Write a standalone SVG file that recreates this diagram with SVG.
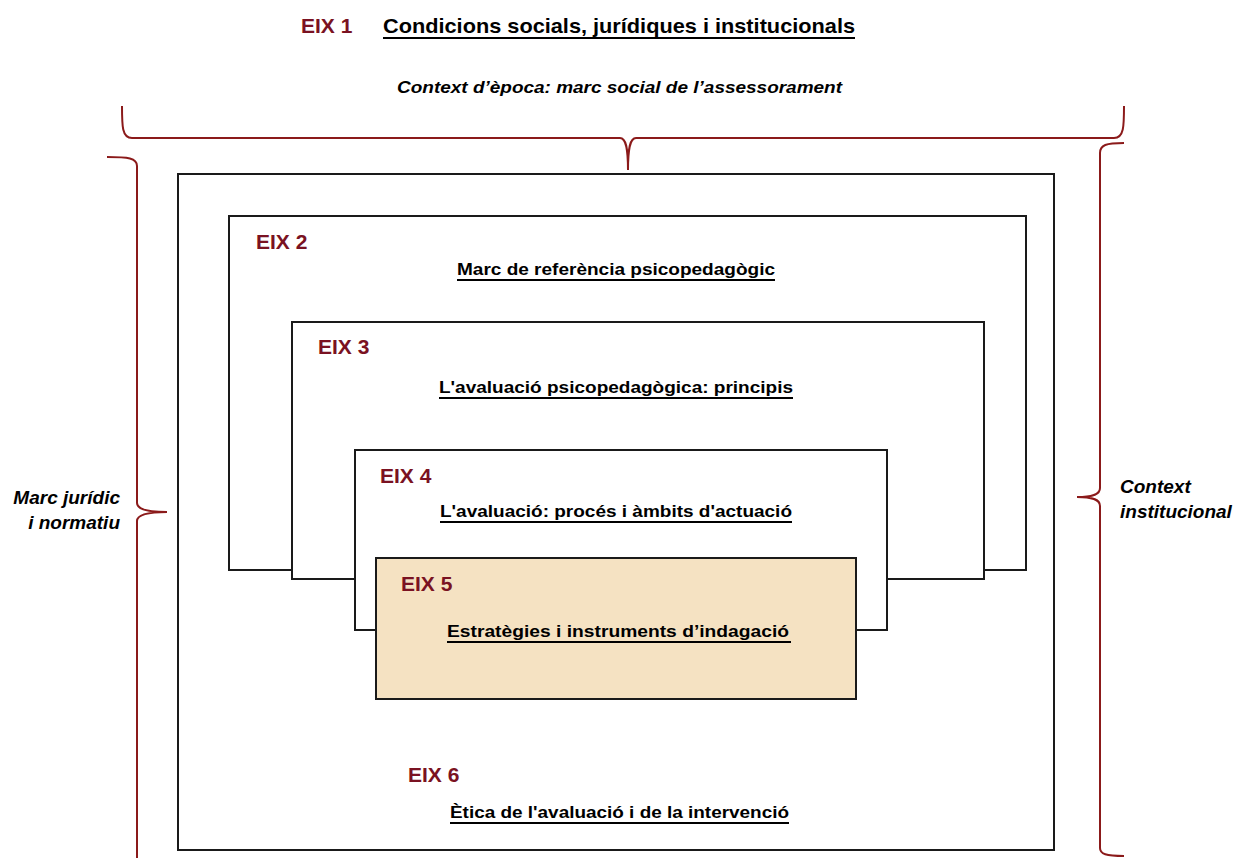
<svg xmlns="http://www.w3.org/2000/svg" width="1234" height="858" viewBox="0 0 1234 858">
<style>
.box{fill:#fff;stroke:#1a1a1a;stroke-width:2}
.b5{fill:#f5e2c2;stroke:#1a1a1a;stroke-width:2}
.eix{font-family:"Liberation Sans",Arial,sans-serif;font-weight:bold;fill:#7a1222;font-size:21px}
.tit{font-family:"Liberation Sans",Arial,sans-serif;font-weight:bold;fill:#000;font-size:17px}
.ul{stroke:#000;stroke-width:2}
.it{font-family:"Liberation Sans",Arial,sans-serif;font-weight:bold;font-style:italic;fill:#000;font-size:17px}
.side{font-size:19px}
.brace{fill:none;stroke:#8b1a1a;stroke-width:2}
</style>
<rect width="1234" height="858" fill="#fff"/>
<g id="header">
<text class="eix" x="301" y="33">EIX 1</text>
<text class="tit" x="383" y="33" style="font-size:21px" textLength="472" lengthAdjust="spacingAndGlyphs">Condicions socials, jurídiques i institucionals</text>
<line class="ul" x1="383" y1="38" x2="855" y2="38"/>
<text class="it" x="397" y="93" textLength="445" lengthAdjust="spacingAndGlyphs">Context d’època: marc social de l’assessorament</text>
</g>
<g id="connectors">
<path class="brace" d="M122,106 C122,126 122,138 132,138 L620,138 C626,138 628,148 628,170 C628,148 630,138 636,138 L1114,138 C1124,138 1124,126 1124,106"/>
<path class="brace" d="M1124,143 C1106,143 1100,145 1100,153 L1100,488 C1100,494 1094,497 1077,497 C1094,497 1100,500 1100,506 L1100,848 C1100,854 1106,856 1124,856"/>
<path class="brace" d="M107,157 C128,157 137,158 137,166 L137,503 C137,509 146,512 167,512 C146,512 137,515 137,521 L137,858"/>
</g>
<g id="eix6">
<rect class="box" x="178" y="174" width="876" height="676"/>
<text class="eix" x="408" y="782">EIX 6</text>
<text class="tit" x="450" y="818" textLength="339" lengthAdjust="spacingAndGlyphs">Ètica de l'avaluació i de la intervenció</text>
<line class="ul" x1="450" y1="823" x2="789" y2="823"/>
</g>
<g id="eix2">
<rect class="box" x="229" y="216" width="797" height="354"/>
<text class="eix" x="256" y="249">EIX 2</text>
<text class="tit" x="457" y="275" textLength="318" lengthAdjust="spacingAndGlyphs">Marc de referència psicopedagògic</text>
<line class="ul" x1="457" y1="280" x2="775" y2="280"/>
</g>
<g id="eix3">
<rect class="box" x="292" y="322" width="692" height="257"/>
<text class="eix" x="318" y="354">EIX 3</text>
<text class="tit" x="439" y="393" textLength="354" lengthAdjust="spacingAndGlyphs">L'avaluació psicopedagògica: principis</text>
<line class="ul" x1="439" y1="398" x2="793" y2="398"/>
</g>
<g id="eix4">
<rect class="box" x="355" y="450" width="532" height="180"/>
<text class="eix" x="380" y="483">EIX 4</text>
<text class="tit" x="440" y="517" textLength="352" lengthAdjust="spacingAndGlyphs">L'avaluació: procés i àmbits d'actuació</text>
<line class="ul" x1="440" y1="522" x2="792" y2="522"/>
</g>
<g id="eix5">
<rect class="b5" x="376" y="558" width="480" height="141"/>
<text class="eix" x="401" y="591">EIX 5</text>
<text class="tit" x="447" y="637" textLength="342" lengthAdjust="spacingAndGlyphs">Estratègies i instruments d’indagació</text>
<line class="ul" x1="447" y1="642" x2="791" y2="642"/>
</g>
<g id="labels">
<text class="it side" x="120" y="504" text-anchor="end">Marc jurídic</text>
<text class="it side" x="120" y="529" text-anchor="end">i normatiu</text>
<text class="it side" x="1120" y="493">Context</text>
<text class="it side" x="1120" y="518">institucional</text>
</g>
</svg>
